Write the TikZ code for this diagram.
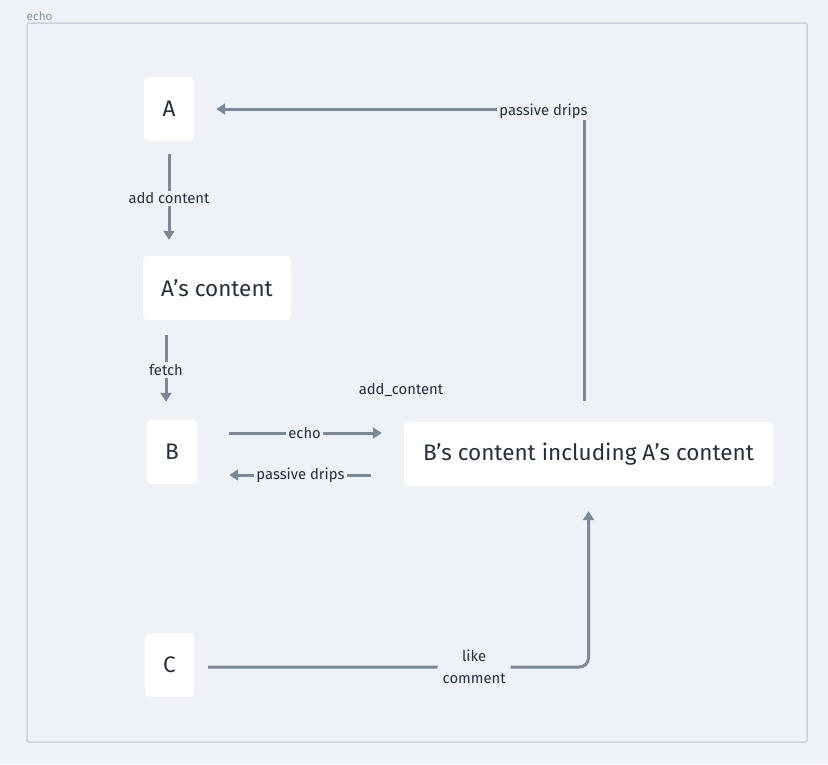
\documentclass[tikz,border=0pt]{standalone}
\usepackage{fontspec}
\setmainfont{Fira Sans}
\usetikzlibrary{arrows.meta,calc}
\definecolor{bgc}{HTML}{EEF1F6}
\definecolor{framec}{HTML}{C9D2DC}
\definecolor{edgec}{HTML}{7A8899}
\definecolor{txtc}{HTML}{243040}
\definecolor{echoc}{HTML}{8B97A5}
\tikzset{
  box/.style={draw=none, fill=white, rounded corners=4pt, text=txtc, font=\fontsize{22.5}{27}\selectfont, inner sep=0pt},
  edge/.style={draw=edgec, line width=3pt, -{Triangle[width=11pt,length=9pt]}},
  lab/.style={fill=bgc, text=txtc, font=\fontsize{14.8}{22}\selectfont, inner sep=2pt, align=center},
}
\begin{document}
\begin{tikzpicture}[x=1pt,y=-1pt]
\useasboundingbox[fill=bgc] (0,0) rectangle (828,764);
\draw[framec, line width=1.5pt, rounded corners=2pt] (27,23) rectangle (807,742);
\node[anchor=base west, text=echoc, font=\fontsize{11.8}{14}\selectfont, inner sep=0pt] (echolab) at (26.5,20) {echo};

\node[box, minimum width=50pt, minimum height=64pt, yshift=-1pt] (a) at (169,108) {A};
\node[box, minimum width=148pt, minimum height=64pt] (ac) at (217,288) {A’s content};
\node[box, minimum width=50pt, minimum height=64pt] (b) at (172,452) {B};
\node[box, minimum width=369pt, minimum height=64pt] (bc) at (588.5,454) {\raisebox{-1.5pt}{B’s content including A’s content}};
\node[box, minimum width=49pt, minimum height=64pt] (c) at (169.5,665) {C};

% A -> A's content
\draw[edge, shorten <=13pt, shorten >=16pt] (a.south) -- node[lab] (l1) {add content} (a.south |- ac.north);
% A's content -> B
\draw[edge, shorten <=15pt, shorten >=18pt] ([xshift=-51pt]ac.south) -- node[lab] (l2) {fetch} ([xshift=-51pt]ac.south |- b.north);
% B -> B's content (echo)
\coordinate (e1) at ($(b.east)+(0,-19)$);
\draw[edge, shorten <=32pt, shorten >=22pt] (e1) -- node[lab, pos=0.52] (l3) {echo} (e1 -| bc.west);
% B's content -> B (passive drips)
\coordinate (e2) at ($(bc.west)+(0,21)$);
\draw[edge, shorten <=33pt, shorten >=32pt] (e2) -- node[lab, pos=0.5] (l4) {passive drips} (e2 -| b.east);
% B's content -> A (passive drips)
\coordinate (e3) at ($(bc.north)+(-4.5,0)$);
\draw[edge, shorten <=21pt, shorten >=22pt] (e3) |- node[lab, pos=0.5, anchor=east, xshift=7pt, yshift=-2pt] (l5) {passive drips} (a.east);
% C -> B's content
\coordinate (e4) at ($(c.east)+(0,2)$);
\draw[edge, rounded corners=9pt, shorten <=14pt, shorten >=25pt] (e4) -| node[lab, pos=0.355, inner xsep=5pt] (l6) {like\\comment} (bc.south);
% floating label
\node[lab, fill=none] (l7) at (401,390) {add\_content};
\end{tikzpicture}
\end{document}
